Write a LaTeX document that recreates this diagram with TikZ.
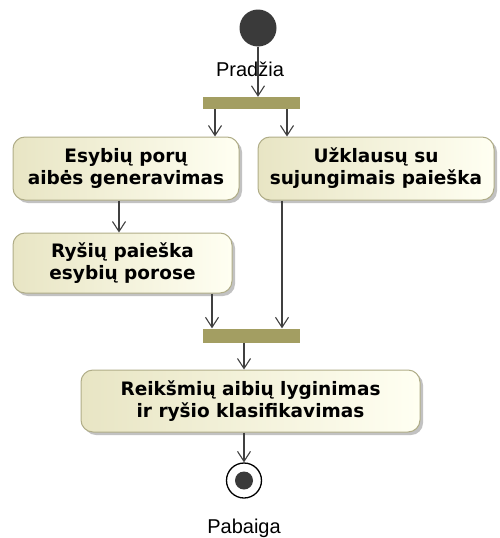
\documentclass[tikz,border=0pt]{standalone}
\usepackage{fontspec}
\setmainfont{DejaVu Sans}
\newfontfamily\labelfont{Liberation Sans}
\usetikzlibrary{arrows.meta,shadows}
\definecolor{barcol}{RGB}{163,158,98}
\definecolor{boxline}{RGB}{176,173,136}
\definecolor{boxleft}{RGB}{232,229,196}
\definecolor{boxright}{RGB}{255,255,242}
\definecolor{linecol}{RGB}{64,64,64}
\definecolor{dotcol}{RGB}{58,58,58}
\begin{document}
\begin{tikzpicture}[x=1pt,y=-1pt,
  action/.style={draw=boxline, line width=1pt, rounded corners=12pt,
    left color=boxleft, right color=boxright, align=center, inner sep=0pt,
    font=\fontsize{18.5}{22}\selectfont\bfseries,
    drop shadow={shadow xshift=3pt,shadow yshift=-3pt,fill=black!40,opacity=0.6}},
  bar/.style={fill=barcol, draw=none, inner sep=0pt, minimum width=97pt},
  flow/.style={draw=linecol, line width=1.1pt,
    -{Straight Barb[length=10pt,width=13pt,line width=1.1pt]}},
  lbl/.style={font=\labelfont\fontsize{20}{24}\selectfont, inner sep=0pt}
]
\useasboundingbox (0,0) rectangle (499,538);

% nodes
\node[circle, fill=dotcol, minimum size=37pt, inner sep=0pt] (start) at (258,28) {};
\node[lbl] (pradzia) at (250,69) {Pradžia};
\node[bar, minimum height=12pt] (fork1) at (251.5,103) {};
\node[action, minimum width=226pt, minimum height=63pt] (b1) at (126,168.5) {Esybių porų\\aibės generavimas};
\node[action, minimum width=236pt, minimum height=63pt] (b3) at (376,168.5) {Užklausų su\\sujungimais paieška};
\node[action, minimum width=219pt, minimum height=60pt] (b2) at (122.5,263) {Ryšių paieška\\esybių porose};
\node[bar, minimum height=14pt] (join) at (251.5,335.5) {};
\node[action, minimum width=339pt, minimum height=62pt] (b4) at (250.5,401) {Reikšmių aibių lyginimas\\ir ryšio klasifikavimas};
\node[circle, draw=black, line width=1.3pt, fill=white, minimum size=35pt, inner sep=0pt] (end) at (244,480.5) {};
\node[circle, fill=dotcol, minimum size=18pt, inner sep=0pt] (enddot) at (end.center) {};
\node[lbl] (pabaiga) at (244,528) {Pabaiga};

% column coordinates
\coordinate (xA) at (215,0);
\coordinate (xB) at (287,0);
\coordinate (xC) at (119,0);
\coordinate (xD) at (212,0);
\coordinate (xE) at (282,0);
\coordinate (xF) at (244,0);

% connectors
\draw[flow] (start.south) -- (fork1.north -| start.south);
\draw[flow] (fork1.south -| xA) -- (b1.north -| xA);
\draw[flow] (fork1.south -| xB) -- (b3.north -| xB);
\draw[flow] (b1.south -| xC) -- (b2.north -| xC);
\draw[flow] (b2.south -| xD) -- (join.north -| xD);
\draw[flow] (b3.south -| xE) -- (join.north -| xE);
\draw[flow] (join.south -| xF) -- (b4.north -| xF);
\draw[flow] (b4.south -| xF) -- (end.north);
\end{tikzpicture}
\end{document}
